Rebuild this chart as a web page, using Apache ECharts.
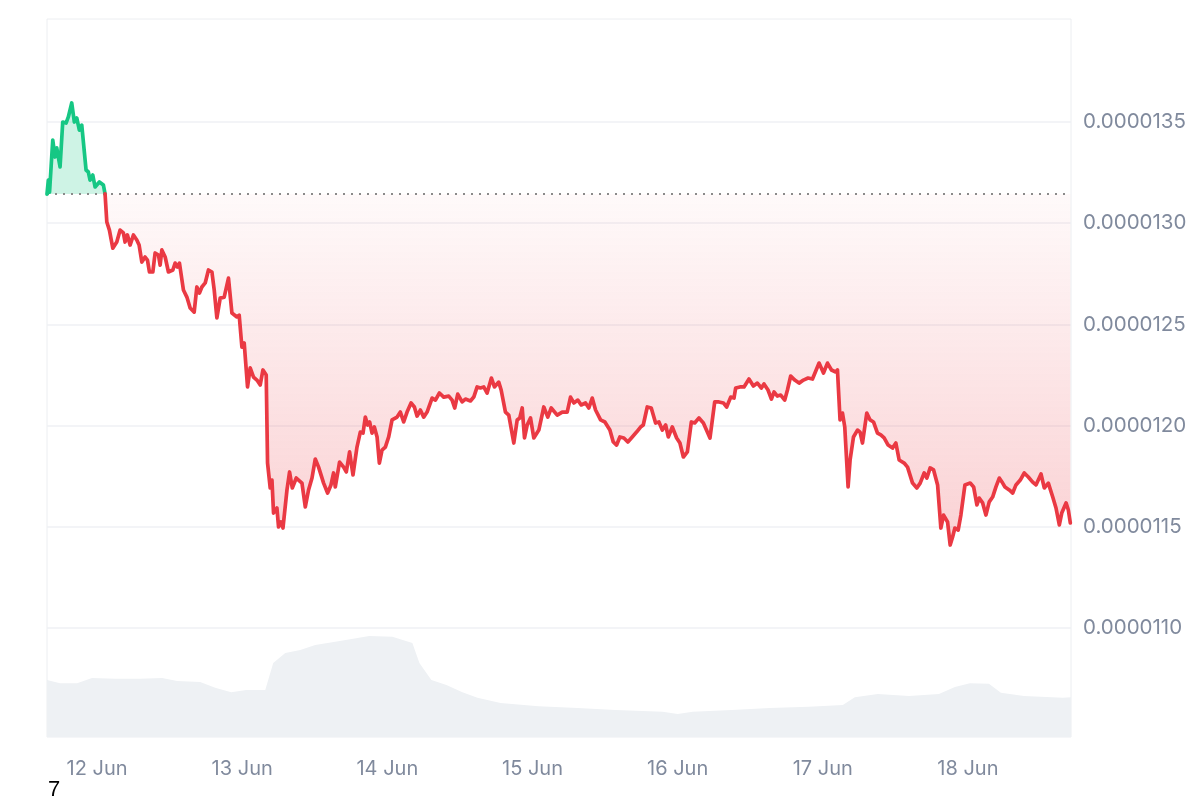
<!DOCTYPE html>
<html><head><meta charset="utf-8">
<script src="https://cdn.jsdelivr.net/npm/echarts@6/dist/echarts.min.js"></script>
<style>html,body{margin:0;padding:0;background:#fff}#c{width:1200px;height:800px}</style>
</head><body><div id="c"></div>
<script>
const dayLabels = ['12 Jun','13 Jun','14 Jun','15 Jun','16 Jun','17 Jun','18 Jun'];
const yTicks = [0.0000110, 0.0000115, 0.0000120, 0.0000125, 0.0000130, 0.0000135];
const baselinePrice = 1.3144e-5;

const priceHours = [-8.28,-8.06,-7.86,-7.33,-6.95,-6.67,-6.12,-5.68,-5.13,-4.75,-4.19,-3.76,-3.36,-2.93,-2.53,-1.82,-1.44,-1.16,-0.71,-0.33,0.38,1.04,1.32,1.61,2.04,2.60,3.26,3.81,4.35,4.63,5.02,5.46,6.01,6.57,6.95,7.40,7.94,8.33,8.66,9.22,9.60,10.15,10.43,10.71,11.26,11.80,12.53,12.91,13.29,13.62,14.28,14.85,15.39,16.06,16.50,16.93,17.33,17.88,18.42,18.99,19.37,19.81,20.36,21.02,21.73,22.30,23.12,23.50,23.95,24.33,24.88,25.32,25.87,26.43,26.98,27.43,27.97,28.19,28.63,28.92,29.18,29.74,30.01,30.41,30.74,31.40,31.83,32.28,32.94,33.88,34.43,34.97,35.54,36.08,36.63,37.46,38.12,38.68,39.11,39.39,40.10,40.77,41.21,41.76,42.32,42.98,43.53,43.98,44.36,44.74,45.07,45.47,45.85,46.30,46.68,47.12,47.67,48.22,48.78,49.61,50.15,50.70,51.26,51.92,52.47,52.92,53.46,54.01,54.57,55.40,55.95,56.61,57.32,58.15,58.71,59.14,59.64,60.37,60.91,61.74,62.29,62.85,63.39,63.94,64.50,65.21,65.71,66.42,66.82,67.53,68.08,68.91,69.47,69.90,70.30,70.68,71.12,71.67,72.22,73.05,73.87,74.53,75.10,76.09,76.92,77.74,78.29,78.84,79.50,80.06,80.77,81.32,81.88,82.43,83.26,83.97,84.80,85.36,85.91,86.45,87.11,87.77,88.50,89.21,89.87,90.32,90.98,91.64,92.36,92.91,93.47,94.02,94.46,95.12,95.84,96.38,96.95,97.61,98.27,98.82,99.53,100.26,101.35,102.13,102.84,103.57,104.11,104.78,105.32,105.60,106.31,106.98,107.80,108.53,109.19,109.85,110.28,110.95,111.51,111.94,112.50,113.05,113.71,114.16,114.70,115.37,116.08,116.81,117.57,118.30,119.39,120.12,120.78,121.44,122.15,122.43,122.86,123.26,123.64,124.19,124.52,125.08,125.74,126.17,126.57,127.28,127.83,128.39,129.05,129.60,130.15,130.81,131.54,132.09,132.63,133.46,134.02,134.85,135.56,136.11,136.77,137.22,137.76,138.33,138.99,139.53,139.98,140.64,141.07,141.47,141.85,142.40,142.84,143.51,144.38,144.95,145.49,145.87,146.44,146.98,147.53,148.09,148.64,149.19,149.75,150.13,150.84,151.41,151.95,152.66,153.32,153.99,154.71,155.26,156.09,156.63,157.30,158.03,158.57,159.12,159.52,160.23,160.61,160.94];

const prices = [1.3144e-5,1.3213e-5,1.3154e-5,1.3411e-5,1.3327e-5,1.3372e-5,1.3278e-5,1.3500e-5,1.3495e-5,1.3525e-5,1.3594e-5,1.3500e-5,1.3520e-5,1.3460e-5,1.3485e-5,1.3263e-5,1.3253e-5,1.3213e-5,1.3238e-5,1.3179e-5,1.3204e-5,1.3189e-5,1.3145e-5,1.3006e-5,1.2966e-5,1.2877e-5,1.2907e-5,1.2966e-5,1.2952e-5,1.2907e-5,1.2942e-5,1.2892e-5,1.2942e-5,1.2917e-5,1.2892e-5,1.2808e-5,1.2833e-5,1.2818e-5,1.2759e-5,1.2759e-5,1.2853e-5,1.2843e-5,1.2793e-5,1.2868e-5,1.2833e-5,1.2759e-5,1.2769e-5,1.2803e-5,1.2784e-5,1.2803e-5,1.2670e-5,1.2635e-5,1.2581e-5,1.2561e-5,1.2685e-5,1.2655e-5,1.2685e-5,1.2705e-5,1.2769e-5,1.2759e-5,1.2670e-5,1.2532e-5,1.2630e-5,1.2635e-5,1.2729e-5,1.2556e-5,1.2537e-5,1.2546e-5,1.2388e-5,1.2408e-5,1.2191e-5,1.2285e-5,1.2240e-5,1.2225e-5,1.2201e-5,1.2275e-5,1.2250e-5,1.1815e-5,1.1692e-5,1.1731e-5,1.1568e-5,1.1593e-5,1.1499e-5,1.1524e-5,1.1494e-5,1.1682e-5,1.1771e-5,1.1692e-5,1.1741e-5,1.1716e-5,1.1598e-5,1.1682e-5,1.1741e-5,1.1835e-5,1.1795e-5,1.1716e-5,1.1667e-5,1.1707e-5,1.1766e-5,1.1697e-5,1.1820e-5,1.1795e-5,1.1771e-5,1.1870e-5,1.1756e-5,1.1894e-5,1.1968e-5,1.1963e-5,1.2042e-5,1.2003e-5,1.2018e-5,1.1963e-5,1.1993e-5,1.1944e-5,1.1815e-5,1.1879e-5,1.1894e-5,1.1944e-5,1.2028e-5,1.2042e-5,1.2067e-5,1.2018e-5,1.2067e-5,1.2112e-5,1.2092e-5,1.2047e-5,1.2077e-5,1.2042e-5,1.2067e-5,1.2136e-5,1.2126e-5,1.2161e-5,1.2141e-5,1.2146e-5,1.2126e-5,1.2087e-5,1.2156e-5,1.2117e-5,1.2131e-5,1.2122e-5,1.2141e-5,1.2191e-5,1.2186e-5,1.2191e-5,1.2161e-5,1.2235e-5,1.2191e-5,1.2215e-5,1.2176e-5,1.2067e-5,1.2052e-5,1.1914e-5,1.2028e-5,1.2038e-5,1.2087e-5,1.1939e-5,1.2003e-5,1.2038e-5,1.1939e-5,1.1978e-5,1.2092e-5,1.2042e-5,1.2087e-5,1.2052e-5,1.2067e-5,1.2067e-5,1.2141e-5,1.2112e-5,1.2126e-5,1.2102e-5,1.2112e-5,1.2087e-5,1.2136e-5,1.2077e-5,1.2028e-5,1.2018e-5,1.1978e-5,1.1919e-5,1.1904e-5,1.1944e-5,1.1939e-5,1.1919e-5,1.1944e-5,1.1968e-5,1.1993e-5,1.2003e-5,1.2092e-5,1.2087e-5,1.2013e-5,1.2018e-5,1.1978e-5,1.2003e-5,1.1944e-5,1.1993e-5,1.1939e-5,1.1914e-5,1.1845e-5,1.1870e-5,1.2018e-5,1.2013e-5,1.2038e-5,1.2013e-5,1.1939e-5,1.2117e-5,1.2117e-5,1.2112e-5,1.2092e-5,1.2141e-5,1.2136e-5,1.2186e-5,1.2191e-5,1.2191e-5,1.2230e-5,1.2196e-5,1.2210e-5,1.2186e-5,1.2206e-5,1.2176e-5,1.2131e-5,1.2166e-5,1.2146e-5,1.2151e-5,1.2126e-5,1.2176e-5,1.2245e-5,1.2225e-5,1.2210e-5,1.2225e-5,1.2235e-5,1.2230e-5,1.2309e-5,1.2260e-5,1.2309e-5,1.2275e-5,1.2265e-5,1.2275e-5,1.2028e-5,1.2062e-5,1.1993e-5,1.1697e-5,1.1830e-5,1.1944e-5,1.1978e-5,1.1968e-5,1.1914e-5,1.2062e-5,1.2028e-5,1.2018e-5,1.1963e-5,1.1954e-5,1.1939e-5,1.1904e-5,1.1889e-5,1.1914e-5,1.1830e-5,1.1815e-5,1.1795e-5,1.1716e-5,1.1692e-5,1.1716e-5,1.1766e-5,1.1741e-5,1.1791e-5,1.1781e-5,1.1707e-5,1.1494e-5,1.1558e-5,1.1524e-5,1.1410e-5,1.1450e-5,1.1494e-5,1.1484e-5,1.1558e-5,1.1707e-5,1.1716e-5,1.1697e-5,1.1608e-5,1.1642e-5,1.1618e-5,1.1558e-5,1.1623e-5,1.1647e-5,1.1697e-5,1.1741e-5,1.1716e-5,1.1697e-5,1.1682e-5,1.1667e-5,1.1707e-5,1.1731e-5,1.1766e-5,1.1746e-5,1.1721e-5,1.1707e-5,1.1761e-5,1.1692e-5,1.1716e-5,1.1647e-5,1.1593e-5,1.1509e-5,1.1568e-5,1.1618e-5,1.1583e-5,1.1519e-5];

const volumeHours = [-8.28,-6.12,-3.31,-0.83,2.98,7.12,10.76,13.24,17.05,19.53,22.18,24.67,27.81,29.13,31.12,33.60,36.08,39.89,45.02,48.83,52.14,53.30,55.28,57.77,60.41,62.90,66.71,73.00,79.45,85.74,93.52,96.01,98.49,104.95,111.23,117.69,123.32,125.30,129.11,134.24,139.21,141.85,144.33,147.48,149.46,153.27,159.72,161.05];
const volumes = [159,150,150,164,162,162,164,156,153,137,125,131,131,206,234,242,256,267,281,279,262,206,159,145,125,109,95,86,81,75,70,64,70,75,81,84,89,111,120,114,120,139,150,148,123,114,109,111];

const DAY0 = Date.UTC(2025, 5, 12);
const HOUR = 3600000;
const X_MIN = DAY0 - 8.28 * HOUR, X_MAX = DAY0 + 161.05 * HOUR;
const t = priceHours.map(h => DAY0 + h * HOUR);
// segment i -> i+1 is "up" when its midpoint is above the baseline
const segUp = prices.slice(0, -1).map((p, i) => (p + prices[i + 1]) / 2 > baselinePrice);
const inUp = i => (i > 0 && segUp[i - 1]) || (i < segUp.length && segUp[i]);
const inDown = i => (i > 0 && !segUp[i - 1]) || (i < segUp.length && !segUp[i]);
const greenLine = prices.map((p, i) => [t[i], inUp(i) ? p : null]);
const redLine = prices.map((p, i) => [t[i], inDown(i) ? p : null]);
const greenArea = prices.map((p, i) => [t[i], Math.max(p, baselinePrice)]);
const redArea = prices.map((p, i) => [t[i], Math.min(p, baselinePrice)]);
const volData = volumeHours.map((h, i) => [DAY0 + h * HOUR, volumes[i]]);
const dayTicks = dayLabels.map((_, i) => DAY0 + i * 24 * HOUR);

const chart = echarts.init(document.getElementById('c'));
const labelColor = '#808a9d';
chart.setOption({
  animation: false,
  grid: { left: 47, right: 129, top: 19, bottom: 63, show: true, borderColor: '#eceef1', borderWidth: 1 },
  xAxis: {
    type: 'value', min: X_MIN, max: X_MAX,
    axisLine: { show: false }, axisTick: { show: false }, splitLine: { show: false },
    axisLabel: { customValues: dayTicks, formatter: v => dayLabels[Math.round((v - DAY0) / (24 * HOUR))],
      color: labelColor, fontSize: 20, fontFamily: 'Inter', margin: 22 }
  },
  yAxis: [{
    type: 'value', position: 'right', min: 0.0000104615, max: 0.000014009,
    axisLine: { show: false }, axisTick: { show: false, customValues: yTicks },
    axisLabel: { customValues: yTicks, formatter: v => v.toFixed(7), color: labelColor, fontSize: 20.5, fontFamily: 'Inter', margin: 12 },
    splitLine: { show: true, lineStyle: { color: '#eff1f4', width: 1.5 } }
  }, {
    type: 'value', min: 0, max: 2000, show: false, splitLine: { show: false }
  }],
  series: [
    { type: 'line', yAxisIndex: 1, data: volData, showSymbol: false, silent: true,
      lineStyle: { width: 0 }, areaStyle: { color: '#eef1f4', opacity: 1 }, z: 1 },
    { type: 'line', data: greenArea, showSymbol: false, silent: true,
      lineStyle: { width: 0 }, areaStyle: { origin: baselinePrice, color: 'rgba(22,199,132,0.3)' }, z: 2 },
    { type: 'line', data: redArea, showSymbol: false, silent: true,
      lineStyle: { width: 0 },
      areaStyle: { origin: baselinePrice, color: new echarts.graphic.LinearGradient(0, 0, 0, 1, [
        { offset: 0, color: 'rgba(234,57,67,0.04)' }, { offset: 1, color: 'rgba(234,57,67,0.33)' }]) }, z: 2 },
    { type: 'line', data: [[X_MIN, baselinePrice], [X_MAX, baselinePrice]], showSymbol: false, silent: true,
      lineStyle: { color: '#8a8a8a', type: [2, 6], width: 2 }, z: 3 },
    { type: 'line', data: greenLine, showSymbol: false, connectNulls: false, silent: true,
      lineStyle: { width: 3.7, color: '#16c784', join: 'round', cap: 'round' }, itemStyle: { color: '#16c784' }, z: 4 },
    { type: 'line', data: redLine, showSymbol: false, connectNulls: false, silent: true,
      lineStyle: { width: 3.7, color: '#ea3943', join: 'round', cap: 'round' }, itemStyle: { color: '#ea3943' }, z: 4 }
  ],
  graphic: [{ type: 'text', left: 48, top: 779, style: { text: '7', fontSize: 22, fill: '#000', fontFamily: 'Liberation Sans' } }]
});
</script></body></html>
